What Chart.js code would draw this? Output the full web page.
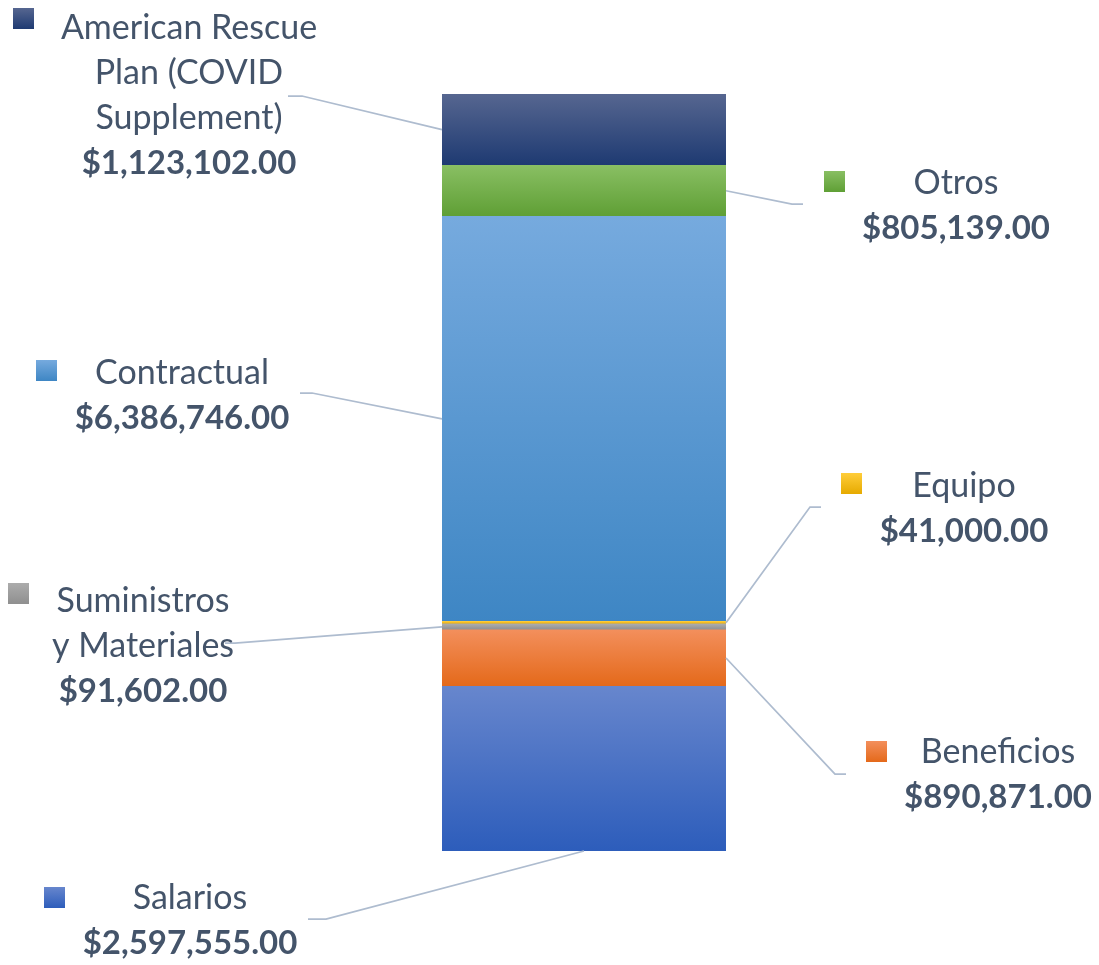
<!DOCTYPE html>
<html>
<head>
<meta charset="utf-8">
<title>Presupuesto</title>
<script src="https://cdn.jsdelivr.net/npm/chart.js@4.4.1/dist/chart.umd.min.js"></script>
<style>
  html, body { margin: 0; padding: 0; background: #ffffff; }
  #wrap { width: 1099px; height: 965px; position: relative; }
</style>
</head>
<body>
<div id="wrap"><canvas id="budgetChart"></canvas></div>
<script>
// --- data (bottom of the stack first) ---
const categories = ['Presupuesto'];
const seriesNames = ['Salarios', 'Beneficios', 'Suministros y Materiales', 'Equipo', 'Contractual', 'Otros', 'American Rescue Plan (COVID Supplement)'];
const seriesValues = [2597555, 890871, 91602, 41000, 6386746, 805139, 1123102];

// gradient stops per series: [top, bottom]
const seriesColors = [
    ['#6786cd', '#2d5dbb'],
    ['#f38f5c', '#e4691a'],
    ['#acacac', '#8f8f8f'],
    ['#ffcd3a', '#e6aa00'],
    ['#76aade', '#3e86c4'],
    ['#89bf63', '#5f9f35'],
    ['#566690', '#1e3a72']
];

const total = seriesValues.reduce((a, b) => a + b, 0);
const cumulative = [];
seriesValues.reduce((acc, v, i) => { cumulative[i] = acc; return acc + v; }, 0);

// label layout (text lines, box, leader line elbow) per series
const labelLayout = [
    { lines: ['Salarios'], cx: 190, y: 898, box: [44, 887], anchor: 'bottom', elbow: [[326, 919], [308, 919]] },
    { lines: ['Beneficios'], cx: 998, y: 752, box: [866, 741], anchor: 'right', elbow: [[835, 774], [846, 774]] },
    { lines: ['Suministros', 'y Materiales'], cx: 143, y: 601, box: [8, 583], anchor: 'left', elbow: [[235, 643], [225, 643]] },
    { lines: ['Equipo'], cx: 964, y: 486, box: [841, 473], anchor: 'right', elbow: [[810, 507], [821, 507]] },
    { lines: ['Contractual'], cx: 182, y: 373, box: [36, 360], anchor: 'left', elbow: [[312, 393], [300, 393]] },
    { lines: ['Otros'], cx: 956, y: 183, box: [824, 171], anchor: 'right', elbow: [[792, 204], [803, 204]] },
    { lines: ['American Rescue', 'Plan (COVID', 'Supplement)'], cx: 189, y: 28, box: [13, 8], anchor: 'left', elbow: [[302, 96], [288, 96]] }
];

const TEXT_COLOR = '#44546a';
const LINE_COLOR = '#aebccf';
const FONT = 'Lato, "Open Sans", sans-serif';
const LINE_H = 45;

function money(v) {
    return '$' + v.toLocaleString('en-US', { minimumFractionDigits: 2, maximumFractionDigits: 2 });
}

function segGradient(c, y0, y1, i) {
    const g = c.createLinearGradient(0, y0, 0, y1);
    g.addColorStop(0, seriesColors[i][0]);
    g.addColorStop(1, seriesColors[i][1]);
    return g;
}

const labelsPlugin = {
    id: 'sideLabels',
    afterDatasetsDraw(chart) {
        const c = chart.ctx;
        const yScale = chart.scales.y;
        c.save();
        seriesNames.forEach((name, i) => {
            const el = chart.getDatasetMeta(i).data[0];
            const lay = labelLayout[i];
            const yTop = yScale.getPixelForValue(cumulative[i] + seriesValues[i]);
            const yBot = yScale.getPixelForValue(cumulative[i]);
            const mid = (yTop + yBot) / 2;
            let ax, ay;
            if (lay.anchor === 'left') { ax = el.x - el.width / 2; ay = mid; }
            else if (lay.anchor === 'right') { ax = el.x + el.width / 2; ay = mid; }
            else { ax = el.x; ay = yBot; }

            // leader line
            c.beginPath();
            c.strokeStyle = LINE_COLOR;
            c.lineWidth = 1.75;
            c.moveTo(ax, ay);
            lay.elbow.forEach(p => c.lineTo(p[0], p[1]));
            c.stroke();

            // legend key
            const bx = lay.box[0], by = lay.box[1];
            c.fillStyle = segGradient(c, by, by + 21, i);
            c.fillRect(bx, by, 21, 21);

            // text
            c.fillStyle = TEXT_COLOR;
            c.textAlign = 'center';
            c.textBaseline = 'middle';
            c.font = '34px ' + FONT;
            lay.lines.forEach((t, k) => c.fillText(t, lay.cx, lay.y + k * LINE_H));
            c.font = 'bold 33px ' + FONT;
            c.fillText(money(seriesValues[i]), lay.cx, lay.y + lay.lines.length * LINE_H);
        });
        c.restore();
    }
};

const datasets = seriesNames.map((name, i) => ({
    label: name,
    data: [seriesValues[i]],
    borderWidth: 0,
    barPercentage: 1,
    categoryPercentage: 1,
    backgroundColor: (ctx) => {
        const chart = ctx.chart;
        if (!chart.chartArea || !chart.scales.y) return seriesColors[i][0];
        const y = chart.scales.y;
        const y0 = y.getPixelForValue(cumulative[i] + seriesValues[i]);
        const y1 = y.getPixelForValue(cumulative[i]);
        return segGradient(chart.ctx, y0, y1, i);
    }
}));

new Chart(document.getElementById('budgetChart'), {
    type: 'bar',
    data: { labels: categories, datasets: datasets },
    options: {
        responsive: true,
        maintainAspectRatio: false,
        animation: false,
        layout: { padding: { left: 442, right: 373, top: 94, bottom: 114 } },
        plugins: {
            legend: { display: false },
            tooltip: { enabled: false }
        },
        scales: {
            x: { stacked: true, display: false, grid: { display: false } },
            y: { stacked: true, display: false, min: 0, max: total, grid: { display: false } }
        }
    },
    plugins: [labelsPlugin]
});
</script>
</body>
</html>
